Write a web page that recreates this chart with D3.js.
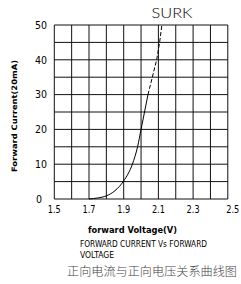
<!DOCTYPE html>
<html>
<head>
<meta charset="utf-8">
<script src="https://cdn.jsdelivr.net/npm/d3@7"></script>
<style>
  body { margin: 0; background: #fff; }
  svg { display: block; }
  .cad { font-family: "DejaVu Sans Condensed", "DejaVu Sans", sans-serif; fill: #000; }
</style>
</head>
<body>
<div class="chart"></div>
<script>
// ticks
const xTicks = [1.5, 1.7, 1.9, 2.1, 2.3, 2.5];
const yTicks = [0, 10, 20, 30, 40, 50];
const xGrid = d3.range(1.5, 2.501, 0.1);
const yGrid = d3.range(0, 50.01, 5);

// solid part of the curve
const solidV = [1.7, 1.75, 1.8, 1.85, 1.9, 1.95, 1.98, 2.0, 2.02, 2.04];
const solidI = [0, 0.3, 0.9, 2.4, 5.2, 10, 15, 20, 25, 30];
// dashed continuation
const dashV = [2.04, 2.09, 2.107, 2.12];
const dashI = [30, 40, 45, 50];

const width = 241, height = 284;
const plotL = 54.3, plotR = 227.8, plotT = 25, plotB = 199;

let svg = d3.select(".chart").append("svg")
  .attr("width", width)
  .attr("height", height);

let x = d3.scaleLinear().domain([1.5, 2.5]).range([plotL, plotR]);
let y = d3.scaleLinear().domain([0, 50]).range([plotB, plotT]);

// grid
svg.selectAll(".vgrid")
  .data(xGrid)
  .enter()
  .append("line")
  .attr("x1", d => x(d)).attr("x2", d => x(d))
  .attr("y1", plotT).attr("y2", plotB)
  .attr("stroke", "#111").attr("stroke-width", 1);

svg.selectAll(".hgrid")
  .data(yGrid)
  .enter()
  .append("line")
  .attr("y1", d => y(d)).attr("y2", d => y(d))
  .attr("x1", plotL).attr("x2", plotR)
  .attr("stroke", "#111").attr("stroke-width", 1);

// curve
let line = d3.line()
  .x(d => x(d[0]))
  .y(d => y(d[1]))
  .curve(d3.curveMonotoneX);

svg.append("path")
  .attr("d", line(solidV.map((v, i) => [v, solidI[i]])))
  .attr("fill", "none")
  .attr("stroke", "#000")
  .attr("stroke-width", 1);

svg.append("path")
  .attr("d", d3.line().x(d => x(d[0])).y(d => y(d[1]))(dashV.map((v, i) => [v, dashI[i]])))
  .attr("fill", "none")
  .attr("stroke", "#000")
  .attr("stroke-width", 1)
  .attr("stroke-dasharray", "4,2");

// tick labels
svg.selectAll(".xlab")
  .data(xTicks)
  .enter()
  .append("text")
  .attr("class", "cad")
  .attr("x", d => x(d) + (d === 2.5 ? 5 : 0))
  .attr("y", 213)
  .attr("text-anchor", "middle")
  .attr("font-size", 10.5)
  .attr("textLength", 13)
  .attr("lengthAdjust", "spacingAndGlyphs")
  .text(d => d.toFixed(1));

svg.selectAll(".ylab")
  .data(yTicks)
  .enter()
  .append("text")
  .attr("class", "cad")
  .attr("x", d => d === 0 ? 36 : 35)
  .attr("y", d => y(d) + 3.8)
  .attr("text-anchor", "start")
  .attr("font-size", 10.5)
  .text(d => d);

// titles
svg.append("text")
  .attr("x", 172).attr("y", 17.5)
  .attr("text-anchor", "middle")
  .attr("font-size", 14)
  .attr("font-family", "Lato")
  .attr("font-weight", 300)
  .attr("fill", "#000")
  .attr("textLength", 41)
  .attr("lengthAdjust", "spacingAndGlyphs")
  .text("SURK");

svg.append("text")
  .attr("class", "cad")
  .attr("transform", "translate(17,116) rotate(-90)")
  .attr("text-anchor", "middle")
  .attr("font-size", 7.5)
  .attr("font-weight", "bold")
  .attr("textLength", 112)
  .attr("lengthAdjust", "spacingAndGlyphs")
  .text("Forward Current(20mA)");

svg.append("text")
  .attr("class", "cad")
  .attr("x", 132.5).attr("y", 233)
  .attr("text-anchor", "middle")
  .attr("font-size", 8)
  .attr("font-weight", "bold")
  .attr("textLength", 89)
  .attr("lengthAdjust", "spacingAndGlyphs")
  .text("forward Voltage(V)");

svg.append("text")
  .attr("class", "cad")
  .attr("x", 80).attr("y", 247)
  .attr("font-size", 8.5)
  .attr("textLength", 127)
  .attr("lengthAdjust", "spacingAndGlyphs")
  .text("FORWARD CURRENT Vs FORWARD");

svg.append("text")
  .attr("class", "cad")
  .attr("x", 80).attr("y", 258)
  .attr("font-size", 8.5)
  .attr("textLength", 34)
  .attr("lengthAdjust", "spacingAndGlyphs")
  .text("VOLTAGE");

svg.append("text")
  .attr("x", 67).attr("y", 276)
  .attr("font-family", "Noto Sans CJK SC")
  .attr("font-size", 12)
  .attr("font-weight", 300)
  .attr("fill", "#444")
  .attr("textLength", 170)
  .attr("lengthAdjust", "spacingAndGlyphs")
  .text("正向电流与正向电压关系曲线图");
</script>
</body>
</html>
